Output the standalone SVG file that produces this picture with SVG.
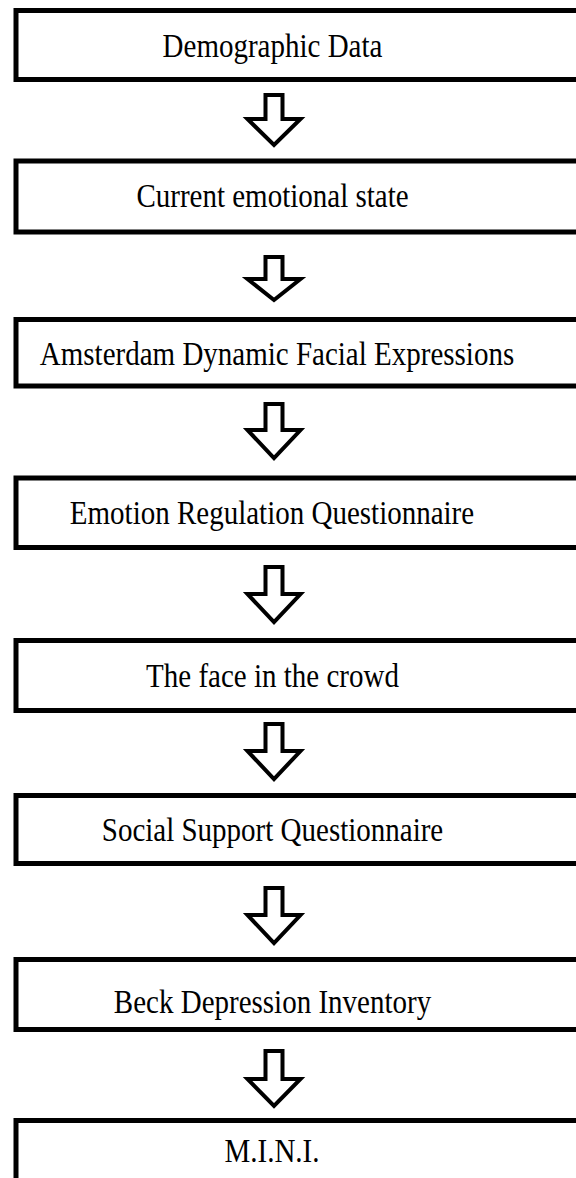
<svg xmlns="http://www.w3.org/2000/svg" width="576" height="1178" viewBox="0 0 576 1178">
  <style>
    .box { fill: #ffffff; stroke: #000000; stroke-width: 5; }
    .lbl { font-family: "Liberation Serif", "Times New Roman", serif; font-size: 29px; fill: #000000; text-anchor: middle; }
    .arrow { fill: #ffffff; stroke: #000000; stroke-width: 4; stroke-linejoin: miter; }
  </style>
  <rect x="0" y="0" width="576" height="1178" fill="#ffffff"/>

  <!-- hollow block arrows between the steps -->
  <g id="connectors">
    <path class="arrow" d="M265.5 95 H282.5 V119 H300.5 L274 145 L247.5 119 H265.5 Z"/>
    <path class="arrow" d="M265.5 257 H282.5 V279 H300.5 L274 300 L247.5 279 H265.5 Z"/>
    <path class="arrow" d="M265.5 404 H282.5 V430 H300.5 L274 458 L247.5 430 H265.5 Z"/>
    <path class="arrow" d="M265.5 567 H282.5 V594 H300.5 L274 622 L247.5 594 H265.5 Z"/>
    <path class="arrow" d="M265.5 724 H282.5 V751 H300.5 L274 779 L247.5 751 H265.5 Z"/>
    <path class="arrow" d="M265.5 888 H282.5 V915 H300.5 L274 943 L247.5 915 H265.5 Z"/>
    <path class="arrow" d="M265.5 1051 H282.5 V1079 H300.5 L274 1106 L247.5 1079 H265.5 Z"/>
  </g>

  <!-- labels are set slightly tall: scaled 1.15 vertically about the baseline -->
  <g id="demographic">
    <rect class="box" x="16" y="10.5" width="600" height="69"/>
    <text class="lbl" transform="translate(272.5 57) scale(1 1.15)">Demographic Data</text>
  </g>
  <g id="emotional-state">
    <rect class="box" x="16" y="161" width="600" height="71"/>
    <text class="lbl" transform="translate(272.5 207) scale(1 1.15)">Current emotional state</text>
  </g>
  <g id="adfes">
    <rect class="box" x="16" y="319.5" width="600" height="66.5"/>
    <text class="lbl" transform="translate(277 365) scale(1 1.15)">Amsterdam Dynamic Facial Expressions</text>
  </g>
  <g id="erq">
    <rect class="box" x="16" y="478" width="600" height="69.5"/>
    <text class="lbl" transform="translate(272 524) scale(1 1.15)">Emotion Regulation Questionnaire</text>
  </g>
  <g id="face-in-crowd">
    <rect class="box" x="16" y="640.5" width="600" height="70"/>
    <text class="lbl" transform="translate(272.5 687) scale(1 1.15)">The face in the crowd</text>
  </g>
  <g id="ssq">
    <rect class="box" x="16" y="795.5" width="600" height="68"/>
    <text class="lbl" transform="translate(272.5 841) scale(1 1.15)">Social Support Questionnaire</text>
  </g>
  <g id="bdi">
    <rect class="box" x="16" y="959.5" width="600" height="70"/>
    <text class="lbl" transform="translate(272.5 1013) scale(1 1.15)">Beck Depression Inventory</text>
  </g>
  <g id="mini">
    <rect class="box" x="16" y="1120.5" width="600" height="80"/>
    <text class="lbl" transform="translate(272 1162) scale(1 1.15)">M.I.N.I.</text>
  </g>
</svg>
